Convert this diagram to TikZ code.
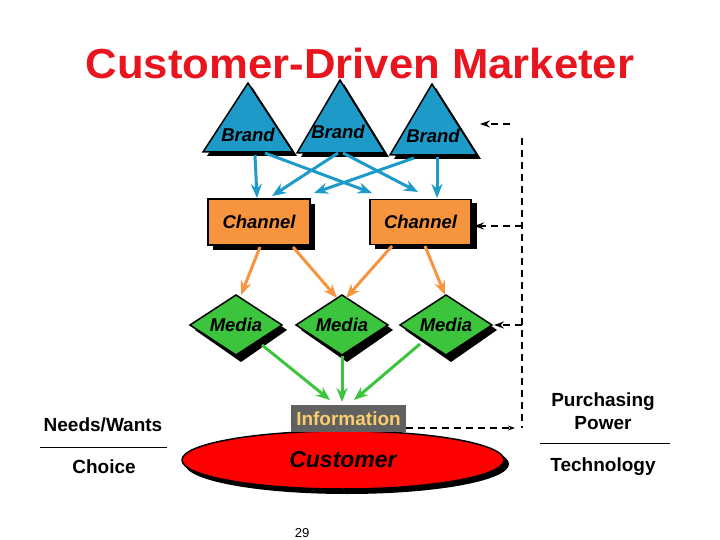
\documentclass[tikz,border=0pt]{standalone}
\usepackage{fontspec}
\setmainfont{Liberation Sans}
\usetikzlibrary{arrows.meta,shapes.geometric}
\definecolor{brandc}{HTML}{1E9AC8}
\definecolor{chanc}{HTML}{F7953E}
\definecolor{medc}{HTML}{3CC43C}
\definecolor{titlec}{HTML}{E8141E}
\begin{document}
\begin{tikzpicture}[x=1pt,y=-1pt,
  lbl/.style={font=\bfseries\itshape\fontsize{18.5}{21}\selectfont},
  barr/.style={draw=brandc,line width=3pt,-{Stealth[length=14pt,width=11pt]}},
  oarr/.style={draw=chanc,line width=3pt,-{Stealth[length=14pt,width=11pt]}},
  garr/.style={draw=medc,line width=3pt,-{Stealth[length=14pt,width=11pt]}},
  dsh/.style={draw=black,line width=2pt,dash pattern=on 7pt off 5pt},
  side/.style={font=\bfseries\fontsize{19}{22}\selectfont,align=center}]
\useasboundingbox (0,0) rectangle (720,540);
\node[font=\bfseries\fontsize{42}{46}\selectfont,text=titlec,xscale=1.04] (title) at (360,63) {Customer-Driven Marketer};
% brands
\foreach \n/\ax/\ay/\l/\r/\b in {b1/248/83/203/293/152, b2/340/80/297/385/153, b3/432/84/390/477/155}{
  \fill[black] (\ax+4,\ay+4) -- (\r+4,\b+4) -- (\l+4,\b+4) -- cycle;
  \filldraw[fill=brandc,draw=black,line width=1.5pt] (\ax,\ay) -- (\r,\b) -- (\l,\b) -- cycle;
}
\node[lbl] (b1) at (248,135) {Brand};
\node[lbl] (b2) at (338,132) {Brand};
\node[lbl] (b3) at (433,136) {Brand};
% channels
\foreach \x/\y in {208/199,370/198}{
  \fill[black] (\x+5,\y+5) rectangle (\x+107,\y+51);
}
\node[lbl,draw=black,line width=1.5pt,fill=chanc,minimum width=102pt,minimum height=46pt] (c1) at (259,222) {Channel};
\node[lbl,draw=black,line width=1.5pt,fill=chanc,minimum width=101pt,minimum height=45pt] (c2) at (420.5,222) {Channel};
% media
\foreach \n/\x in {m1/236,m2/342,m3/446}{
  \fill[black] (\x+5,298) -- (\x+51,330) -- (\x+5,362) -- (\x-41,330) -- cycle;
  \filldraw[fill=medc,draw=black,line width=1.5pt] (\x,295) -- (\x+46,325) -- (\x,355) -- (\x-46,325) -- cycle;
  \node[lbl] (\n) at (\x,325) {Media};
}
% customer
\fill[black] (347,464) ellipse (162 and 30);
\node[ellipse,draw=black,line width=1.5pt,fill=red,minimum width=322pt,minimum height=58pt,font=\bfseries\itshape\fontsize{23}{26}\selectfont] (cust) at (343,460) {Customer};
\node[fill=black!62,text={rgb,255:red,250;green,205;blue,110},font=\bfseries\fontsize{19}{22}\selectfont,minimum width=115pt,minimum height=27pt,inner sep=1pt] (info) at (348.5,418.5) {Information};
% blue arrows
\draw[barr] (255,155) -- (257,198);
\draw[barr] (265,153) -- (372,193);
\draw[barr] (338,153) -- (272,196);
\draw[barr] (343,153) -- (418,192);
\draw[barr] (414,158) -- (314,193);
\draw[barr] (437,157) -- (437,198);
% orange arrows
\draw[oarr] (260,247) -- (241,295);
\draw[oarr] (293,247) -- (337,298);
\draw[oarr] (392,246) -- (346,298);
\draw[oarr] (425,246) -- (445,295);
% green arrows
\draw[garr] (262,345) -- (330,400);
\draw[garr] (342,356) -- (342,402);
\draw[garr] (420,344) -- (354,400);
% dashed feedback
\coordinate (tr) at (510,124);
\coordinate (vt) at (522,138);
\coordinate (vb) at (522,428);
\draw[dsh,-{Stealth[length=10pt,width=7pt]}] (tr) -- (480,124);
\draw[dsh] (vt) -- (vb);
\draw[dsh,-{Stealth[length=10pt,width=7pt]}] (522,226) -- (474,226);
\draw[dsh,-{Stealth[length=10pt,width=7pt]}] (522,325) -- (494,325);
\draw[dsh,-{Stealth[length=7pt,width=5pt]}] (info.east |- 0,428) -- (515,428);
% side labels
\node[side] (nw) at (103,425) {Needs/Wants};
\node[side] (ch) at (104,467) {Choice};
\draw[line width=1pt] (40,447) -- (167,447);
\node[side,font=\bfseries\fontsize{19}{23}\selectfont] (pp) at (603,411) {Purchasing\\Power};
\node[side] (te) at (603,467) {Technology};
\draw[line width=1pt] (540,443) -- (670,443);
\node[font=\fontsize{13}{15}\selectfont] (pg) at (302,533) {29};
\end{tikzpicture}
\end{document}
